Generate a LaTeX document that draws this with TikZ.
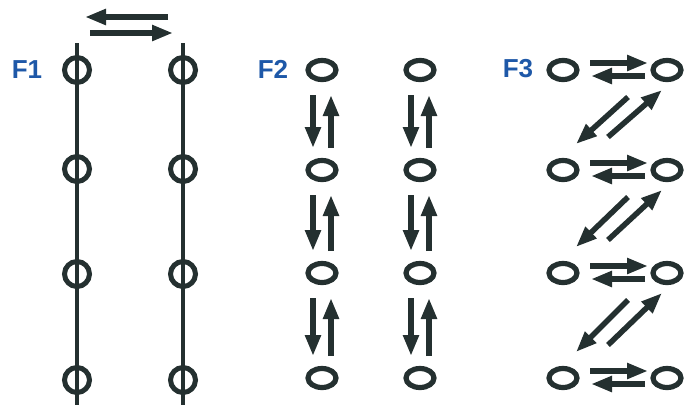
\documentclass[tikz,border=0pt]{standalone}
\usepackage{fontspec}
\setmainfont{Liberation Sans}
\usetikzlibrary{arrows.meta,calc,shapes.geometric}
\definecolor{ink}{RGB}{36,48,48}
\definecolor{lblue}{RGB}{30,88,168}
\tikzset{
  ringA/.style={draw=ink,ellipse,line width=5pt,inner sep=0pt,minimum width=25pt,minimum height=25pt},
  ringB/.style={draw=ink,ellipse,line width=5.2pt,inner sep=0pt,minimum width=28pt,minimum height=19pt},
  arr/.style={draw=ink,line width=5.5pt,-{Triangle[length=21pt,width=15pt]}},
  rod/.style={draw=ink,line width=4.5pt},
  lbl/.style={text=lblue,font=\fontsize{26}{26}\selectfont\bfseries,inner sep=0pt}
}
\begin{document}
\begin{tikzpicture}[x=1pt,y=-1pt]
\useasboundingbox (0,0) rectangle (685,405);
% labels
\node[lbl] (L1) at (27,70) {F1};
\node[lbl] (L2) at (273,69) {F2};
\node[lbl] (L3) at (518,69) {F3};
% F1
\coordinate (r1t) at (77,43);
\coordinate (r1b) at (77,405);
\coordinate (r2t) at (183,43);
\coordinate (r2b) at (183,405);
\draw[rod] (r1t) -- (r1b);
\draw[rod] (r2t) -- (r2b);
\foreach \i/\y in {1/70,2/169,3/274,4/380}{
  \node[ringA] (p\i) at (77,\y) {};
  \node[ringA] (q\i) at (183,\y) {};
}
\coordinate (ta) at (168,17);
\coordinate (tb) at (85,17);
\coordinate (tc) at (90,33);
\coordinate (td) at (173,33);
\draw[arr] (ta) -- (tb);
\draw[arr] (tc) -- (td);
% F2
\foreach \i/\y in {1/70,2/170,3/273,4/378}{
  \node[ringB] (a\i) at (322,\y) {};
  \node[ringB] (b\i) at (420,\y) {};
}
\foreach \i/\j in {1/2,2/3,3/4}{
  \draw[arr] ($(a\i)+(-9,25)$) -- ($(a\j)+(-9,-22)$);
  \draw[arr] ($(a\j)+(9,-22)$) -- ($(a\i)+(9,25)$);
  \draw[arr] ($(b\i)+(-9,25)$) -- ($(b\j)+(-9,-22)$);
  \draw[arr] ($(b\j)+(9,-22)$) -- ($(b\i)+(9,25)$);
}
% F3
\foreach \i/\y in {1/70,2/170,3/273,4/378}{
  \node[ringB] (c\i) at (563,\y) {};
  \node[ringB] (d\i) at (667,\y) {};
  \draw[arr] ($(c\i)+(27,-7)$) -- ($(d\i)+(-19,-7)$);
  \draw[arr] ($(d\i)+(-22,6)$) -- ($(c\i)+(28,6)$);
}
\foreach \i/\j in {1/2,2/3,3/4}{
  \draw[arr] ($(d\i)+(-39,27)$) -- ($(c\j)+(13,-26)$);
  \draw[arr] ($(c\j)+(45,-33)$) -- ($(d\i)+(-5,20)$);
}
\end{tikzpicture}
\end{document}
